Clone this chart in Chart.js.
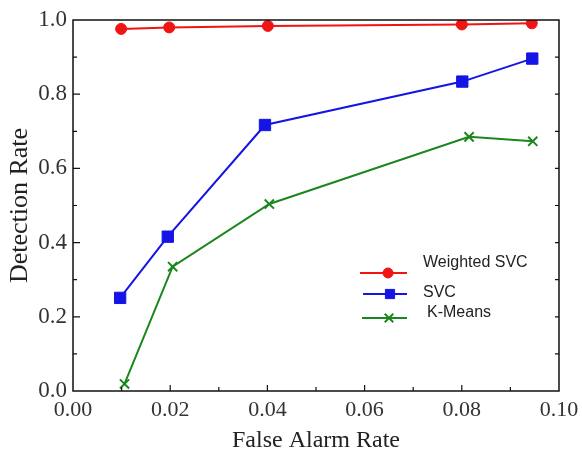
<!DOCTYPE html>
<html>
<head>
<meta charset="utf-8">
<script src="https://cdn.jsdelivr.net/npm/chart.js@4/dist/chart.umd.min.js"></script>
<style>
html,body{margin:0;padding:0;background:#fff;}
#wrap{width:582px;height:451px;}
</style>
</head>
<body>
<div id="wrap"><canvas id="c" width="582" height="451"></canvas></div>
<script>
// ---- data ----
const seriesNames = ["Weighted SVC", "SVC", "K-Means"];
const wsvcX = [0.0099, 0.0198, 0.0401, 0.0800, 0.0944];
const wsvcY = [0.976, 0.980, 0.984, 0.988, 0.991];
const svcX  = [0.0097, 0.0195, 0.0395, 0.0801, 0.0945];
const svcY  = [0.251, 0.416, 0.717, 0.834, 0.896];
const kmX   = [0.0106, 0.0205, 0.0404, 0.0815, 0.0946];
const kmY   = [0.019, 0.335, 0.504, 0.685, 0.673];
const xTicks = [0, 0.02, 0.04, 0.06, 0.08, 0.10];
const yTicks = [0, 0.2, 0.4, 0.6, 0.8, 1.0];

const pts = (xs, ys) => xs.map((x, i) => ({x: x, y: ys[i]}));

const serif = "'Liberation Serif', 'Times New Roman', serif";
const sans = "'Liberation Sans', Arial, sans-serif";

const frame = {
  id: 'frame',
  afterDraw(chart) {
    const ctx = chart.ctx, a = chart.chartArea;
    const xs = chart.scales.x, ys = chart.scales.y;
    ctx.save();
    ctx.strokeStyle = '#111';
    ctx.lineWidth = 1.5;
    ctx.strokeRect(a.left, a.top, a.right - a.left, a.bottom - a.top);
    ctx.lineWidth = 1.2;
    ctx.beginPath();
    for (let i = 1; i < 10; i++) {
      const px = xs.getPixelForValue(i * 0.01);
      const len = (i % 2 === 0) ? 6 : 4;
      ctx.moveTo(px, a.bottom); ctx.lineTo(px, a.bottom - len);
    }
    for (let i = 1; i < 10; i++) {
      const py = ys.getPixelForValue(i * 0.1);
      const len = (i % 2 === 0) ? 7 : 4;
      ctx.moveTo(a.left, py); ctx.lineTo(a.left + len, py);
      ctx.moveTo(a.right, py); ctx.lineTo(a.right - 4, py);
    }
    ctx.stroke();

    // legend
    const lineX0 = [360, 363, 362], lineX1 = 407, markX = [388, 390, 389];
    const lineY = [273, 294, 318], textY = [263, 293, 313], textX = [423, 423, 427];
    const legendR = [5, 6.5, 6];
    chart.data.datasets.forEach((ds, i) => {
      const y = lineY[i];
      ctx.strokeStyle = ds.borderColor;
      ctx.lineWidth = 2;
      ctx.beginPath(); ctx.moveTo(lineX0[i], y); ctx.lineTo(lineX1, y); ctx.stroke();
      const opts = {pointStyle: ds.pointStyle, radius: legendR[i], rotation: 0,
        borderWidth: ds.pointBorderWidth || 1.5};
      ctx.fillStyle = ds.backgroundColor;
      ctx.strokeStyle = ds.borderColor;
      ctx.lineWidth = opts.borderWidth;
      if (Chart.helpers && Chart.helpers.drawPoint) Chart.helpers.drawPoint(ctx, opts, markX[i], y);
      ctx.fillStyle = '#222';
      ctx.font = '16px ' + sans;
      ctx.textBaseline = 'middle';
      ctx.fillText(ds.label, textX[i], textY[i]);
    });
    ctx.restore();
  }
};

new Chart(document.getElementById('c'), {
  type: 'line',
  data: {
    datasets: [
      {label: seriesNames[0], data: pts(wsvcX, wsvcY), borderColor: '#f01414', backgroundColor: '#f01414',
       pointStyle: 'circle', pointRadius: 5.5, borderWidth: 2, pointBorderWidth: 1},
      {label: seriesNames[1], data: pts(svcX, svcY), borderColor: '#1414e6', backgroundColor: '#1414e6',
       pointStyle: 'rect', pointRadius: 8, borderWidth: 2, pointBorderWidth: 1},
      {label: seriesNames[2], data: pts(kmX, kmY), borderColor: '#1c861e', backgroundColor: '#1c861e',
       pointStyle: 'crossRot', pointRadius: 6.5, borderWidth: 2, pointBorderWidth: 2}
    ]
  },
  options: {
    responsive: false,
    animation: false,
    layout: {padding: {top: 20, right: 23, left: 0, bottom: 0}},
    plugins: {legend: {display: false}, tooltip: {enabled: false}},
    scales: {
      x: {
        type: 'linear', min: 0, max: 0.1,
        afterBuildTicks: s => { s.ticks = xTicks.map(v => ({value: v})); },
        ticks: {callback: v => Number(v).toFixed(2), color: '#333', font: {family: serif, size: 22}, padding: 6, maxRotation: 0},
        grid: {display: false, drawTicks: false},
        border: {display: false},
        title: {display: true, text: 'False Alarm Rate', color: '#222', font: {family: serif, size: 24, lineHeight: 0.85}, padding: {top: 0, bottom: 0}},
        afterFit: s => { s.height = 60; s.paddingRight = 0; s.paddingLeft = 0; }
      },
      y: {
        type: 'linear', min: 0, max: 1,
        afterBuildTicks: s => { s.ticks = yTicks.map(v => ({value: v})); },
        ticks: {callback: v => Number(v).toFixed(1), color: '#333', font: {family: serif, size: 23}, padding: 6},
        grid: {display: false, drawTicks: false},
        border: {display: false},
        title: {display: true, text: 'Detection Rate', color: '#222', font: {family: serif, size: 26}, padding: {top: 5, bottom: 2}},
        afterFit: s => { s.width = 73; s.paddingTop = 0; s.paddingBottom = 0; }
      }
    }
  },
  plugins: [frame]
});
</script>
</body>
</html>
